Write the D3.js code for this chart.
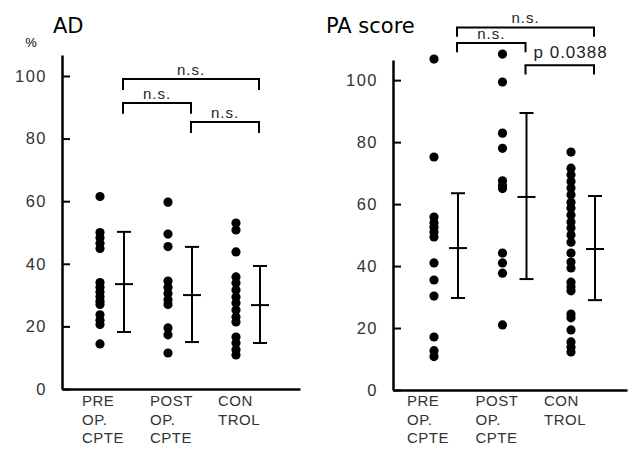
<!DOCTYPE html>
<html>
<head>
<meta charset="utf-8">
<script src="https://cdn.jsdelivr.net/npm/d3@7"></script>
<style>
  body { margin: 0; background: #fff; }
  text { font-family: "Liberation Sans", Arial, sans-serif; }
</style>
</head>
<body>
<div id="chart"></div>
<script>
const CATEGORIES = ["PRE", "POST", "CONTROL"]
const CAT_LABELS = [["PRE", "OP.", "CPTE"], ["POST", "OP.", "CPTE"], ["CON", "TROL"]]
const Y_TICKS = [0, 20, 40, 60, 80, 100]

// AD (%)
const AD_PRE = [61.5, 50, 48.3, 46.6, 44.9, 34, 32.5, 31, 29.5, 28, 27, 23.7, 22, 20.6, 14.4]
const AD_POST = [59.7, 49.5, 45.5, 34.5, 32.5, 30.5, 28.5, 27, 19.5, 17.3, 11.5]
const AD_CON = [53, 50.8, 43.8, 35.8, 33.9, 31.6, 29.4, 27.5, 25.2, 23, 21.4, 16.6, 14.7, 12.5, 10.9]
// mean, lower, upper
const AD_BARS = [[33.5, 18.2, 50.2], [30, 15, 45.4], [26.8, 14.7, 39.3]]
const AD_BRACKETS = [[0, 2, 99, "n.s."], [0, 1, 91.4, "n.s."], [1, 2, 85.3, "n.s."]]

// PA score
const PA_PRE = [106.8, 75.2, 55.8, 54, 52.5, 51, 49.4, 41, 35.5, 30.3, 17.1, 12.7, 10.8]
const PA_POST = [108.4, 99.4, 82.9, 78, 67.5, 66, 65, 44.2, 41, 37.7, 21]
const PA_CON = [76.8, 71.6, 69.5, 67.3, 65.2, 63, 60.6, 58.7, 56.5, 54.2, 52.3, 50, 47.7,
  44.2, 41.3, 39.4, 34.8, 33.3, 32, 24.5, 23.3, 19.4, 15.5, 13.8, 12.3]
const PA_BARS = [[45.8, 29.7, 63.5], [62.3, 35.8, 89.4], [45.5, 29, 62.6]]
const PA_BRACKETS = [[0, 2, 117, "n.s."], [0, 1, 112, "n.s."], [1, 2, 104.8, "p  0.0388"]]

const width = 634, height = 449

const svg = d3.select("#chart").append("svg")
  .attr("width", width)
  .attr("height", height)

const panels = [
  { title: "AD", titleX: 53, unit: "%", series: [AD_PRE, AD_POST, AD_CON], bars: AD_BARS,
    brackets: AD_BRACKETS, axisX: 62, axisEnd: 300, yTop: 55, yBottom: 389, yMax: 106.7,
    dotX: [100, 236], labelShift: -18, drop: 3.5 },
  { title: "PA score", titleX: 326, unit: null, series: [PA_PRE, PA_POST, PA_CON], bars: PA_BARS,
    brackets: PA_BRACKETS, axisX: 393, axisEnd: 627, yTop: 60, yBottom: 390, yMax: 106.5,
    dotX: [434, 571], labelShift: -27, drop: 3 }
]

panels.forEach(drawPanel)

function drawPanel(p) {
  const g = svg.append("g")

  const y = d3.scaleLinear()
    .domain([0, p.yMax])
    .range([p.yBottom, p.yTop])

  const x = d3.scalePoint()
    .domain(CATEGORIES)
    .range(p.dotX)

  const barOffset = 24

  // y axis, ticks pointing inward
  const yAxis = g.append("g")
    .attr("transform", "translate(" + p.axisX + ",0)")
    .call(d3.axisLeft(y).tickValues(Y_TICKS).tickSize(-8).tickSizeOuter(0).tickPadding(15))
  yAxis.select(".domain").attr("stroke-width", 2.5)
  yAxis.selectAll(".tick line").attr("stroke-width", 2)
  yAxis.selectAll(".tick text")
    .style("font-size", "16.5px")
    .style("letter-spacing", "1.5px")
    .attr("fill", "#333")

  // x axis baseline
  const xAxis = g.append("g")
    .attr("transform", "translate(0," + p.yBottom + ")")
    .call(d3.axisBottom(d3.scaleLinear().range([p.axisX, p.axisEnd])).ticks(0).tickSizeOuter(0))
  xAxis.select(".domain").attr("stroke-width", 2.5)

  // title
  g.append("text")
    .attr("x", p.titleX)
    .attr("y", 33)
    .style("font-family", "'DejaVu Sans', sans-serif")
    .style("font-size", "21px")
    .text(p.title)

  if (p.unit) {
    g.append("text")
      .attr("x", 31)
      .attr("y", 47)
      .attr("text-anchor", "middle")
      .style("font-size", "13px")
      .text(p.unit)
  }

  // dots
  p.series.forEach(function(vals, i) {
    g.append("g").selectAll("circle")
      .data(vals)
      .enter()
      .append("circle")
        .attr("cx", x(CATEGORIES[i]))
        .attr("cy", function(d) { return y(d) })
        .attr("r", 4.6)
        .attr("fill", "#000")
  })

  // mean +- sd bars
  p.bars.forEach(function(b, i) {
    const bx = x(CATEGORIES[i]) + barOffset
    const eb = g.append("g").attr("stroke", "#000").attr("stroke-width", 2)
    eb.append("line").attr("x1", bx).attr("x2", bx).attr("y1", y(b[1])).attr("y2", y(b[2]))
    eb.append("line").attr("x1", bx - 7).attr("x2", bx + 7).attr("y1", y(b[1])).attr("y2", y(b[1]))
    eb.append("line").attr("x1", bx - 7).attr("x2", bx + 7).attr("y1", y(b[2])).attr("y2", y(b[2]))
    eb.append("line").attr("x1", bx - 9).attr("x2", bx + 9).attr("y1", y(b[0])).attr("y2", y(b[0]))
  })

  // significance brackets
  p.brackets.forEach(function(br) {
    const x1 = x(CATEGORIES[br[0]]) + barOffset - 1
    const x2 = x(CATEGORIES[br[1]]) + barOffset - 1
    const by = y(br[2])
    g.append("path")
      .attr("d", "M" + x1 + "," + y(br[2] - p.drop) + "V" + by + "H" + x2 + "V" + y(br[2] - p.drop))
      .attr("fill", "none")
      .attr("stroke", "#000")
      .attr("stroke-width", 2)
    const isP = br[3].indexOf("p") === 0
    g.append("text")
      .attr("x", isP ? x1 + 8 : (x1 + x2) / 2)
      .attr("y", by - (isP ? 7 : 4))
      .attr("text-anchor", isP ? "start" : "middle")
      .style("font-size", isP ? "17px" : "15px")
      .style("letter-spacing", "1px")
      .attr("fill", "#222")
      .text(br[3])
  })

  // category labels
  CAT_LABELS.forEach(function(lines, i) {
    const t = g.append("text")
      .attr("x", x(CATEGORIES[i]) + p.labelShift)
      .attr("y", 406)
      .style("font-size", "15px")
      .style("letter-spacing", "0.5px")
      .attr("fill", "#333")
    lines.forEach(function(l, k) {
      t.append("tspan")
        .attr("x", x(CATEGORIES[i]) + p.labelShift)
        .attr("dy", k === 0 ? 0 : 18.5)
        .text(l)
    })
  })
}
</script>
</body>
</html>
